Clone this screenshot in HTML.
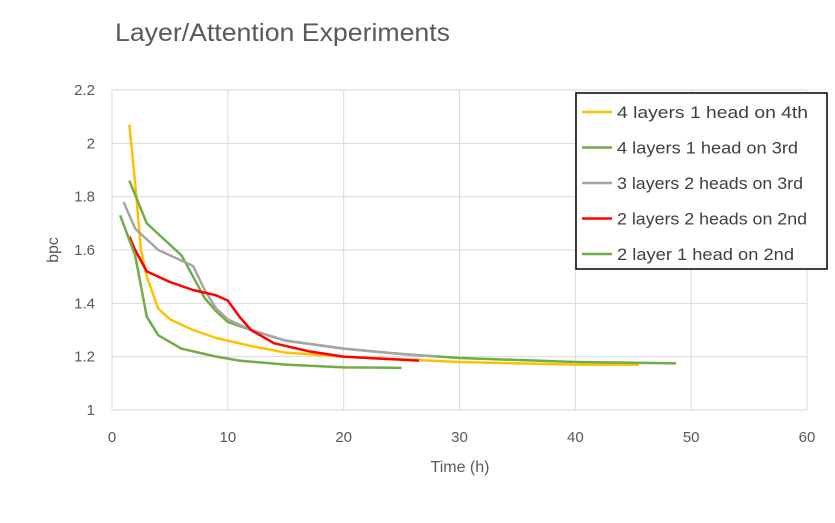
<!DOCTYPE html>
<html><head><meta charset="utf-8"><style>
body{margin:0;background:#fff;font-family:"Liberation Sans",sans-serif}
</style></head><body>
<svg width="835" height="518" id="c" xmlns="http://www.w3.org/2000/svg">
<rect width="835" height="518" fill="#fff"/>
<text x="115" y="41" font-size="25" fill="#595959" textLength="335" lengthAdjust="spacingAndGlyphs">Layer/Attention Experiments</text>
<g id="grid"></g><g id="series"></g>
<text x="460" y="472" font-size="16" fill="#595959" text-anchor="middle">Time (h)</text>
<text transform="translate(58,250) rotate(-90)" font-size="16" fill="#595959" text-anchor="middle">bpc</text>
<g id="legend"></g>
</svg>
<script>
const xTicks=[0,10,20,30,40,50,60];
const yTicks=[1,1.2,1.4,1.6,1.8,2,2.2];
const seriesNames=["4 layers 1 head on 4th","4 layers 1 head on 3rd","3 layers 2 heads on 3rd","2 layers 2 heads on 2nd","2 layer 1 head on 2nd"];
const seriesColors=["#ffc000","#70ad47","#a5a5a5","#ff0000","#70ad47"];
const s1x=[1.5,2,2.5,3,4,5,7,9,12,15,20,30,40,45.5];
const s1y=[2.07,1.85,1.6,1.5,1.38,1.34,1.3,1.27,1.24,1.215,1.2,1.18,1.17,1.17];
const s2x=[1.5,3,4,6,7,8,9,10,12,15,20,25,30,40,48.7];
const s2y=[1.86,1.7,1.66,1.58,1.5,1.42,1.37,1.33,1.3,1.26,1.23,1.21,1.195,1.18,1.175];
const s3x=[1,2,4,6,7,8,9,10,12,15,20,25,28];
const s3y=[1.78,1.68,1.6,1.56,1.54,1.45,1.38,1.34,1.3,1.26,1.23,1.21,1.2];
const s4x=[1.5,2,3,5,7,9,10,11,12,14,17,20,26.5];
const s4y=[1.65,1.6,1.52,1.48,1.45,1.43,1.41,1.35,1.3,1.25,1.22,1.2,1.185];
const s5x=[0.7,2,3,4,6,8,9,11,15,20,25];
const s5y=[1.73,1.58,1.35,1.28,1.23,1.21,1.2,1.185,1.17,1.16,1.158];
const legendWidths=[191,181,186,190,177];
const X=v=>112+v*(807-112)/60, Y=v=>410-(v-1)*(320/1.2);
const NS="http://www.w3.org/2000/svg";
function mk(t,a,p){const e=document.createElementNS(NS,t);for(const k in a)e.setAttribute(k,a[k]);p.appendChild(e);return e;}
const g=document.getElementById('grid');
xTicks.forEach(v=>{
 const l=mk('line',{x1:X(v),x2:X(v),y1:Y(2.2),y2:Y(1),stroke:'#d9d9d9'},g);
 
 
 const t=mk('text',{x:X(v),y:442,'font-size':15,fill:'#595959','text-anchor':'middle'},g);t.textContent=v;
 
 
});
yTicks.forEach(v=>{
 const l=mk('line',{x1:X(0),x2:X(60),y1:Y(v),y2:Y(v),stroke:'#d9d9d9'},g);
 
 
 const t=mk('text',{x:95,y:Y(v)+5,'font-size':15,fill:'#595959','text-anchor':'end'},g);t.textContent=String(v);
 
 
});
const sx=[s1x,s2x,s3x,s4x,s5x], sy=[s1y,s2y,s3y,s4y,s5y];
const sg=document.getElementById('series');
sx.forEach((xs,i)=>{
 const p=mk('polyline',{points:xs.map((x,j)=>X(x)+','+Y(sy[i][j])).join(' '),fill:'none',stroke:seriesColors[i],'stroke-width':2.5,'stroke-linejoin':'round'},sg);
 
 
});
const lg=document.getElementById('legend');
const box=mk('rect',{x:576,y:93,width:251,height:176,fill:'#fff',stroke:'#000','stroke-width':1.5},lg);


seriesNames.forEach((n,i)=>{
 const y=112+i*35.5;
 const l=mk('line',{x1:582,x2:612,y1:y,y2:y,stroke:seriesColors[i],'stroke-width':2.5},lg);
 
 
 const t=mk('text',{x:617,y:y+6,'font-size':17,fill:'#404040',textLength:legendWidths[i],lengthAdjust:'spacingAndGlyphs'},lg);t.textContent=n;
 
 
});
</script>
</body></html>
